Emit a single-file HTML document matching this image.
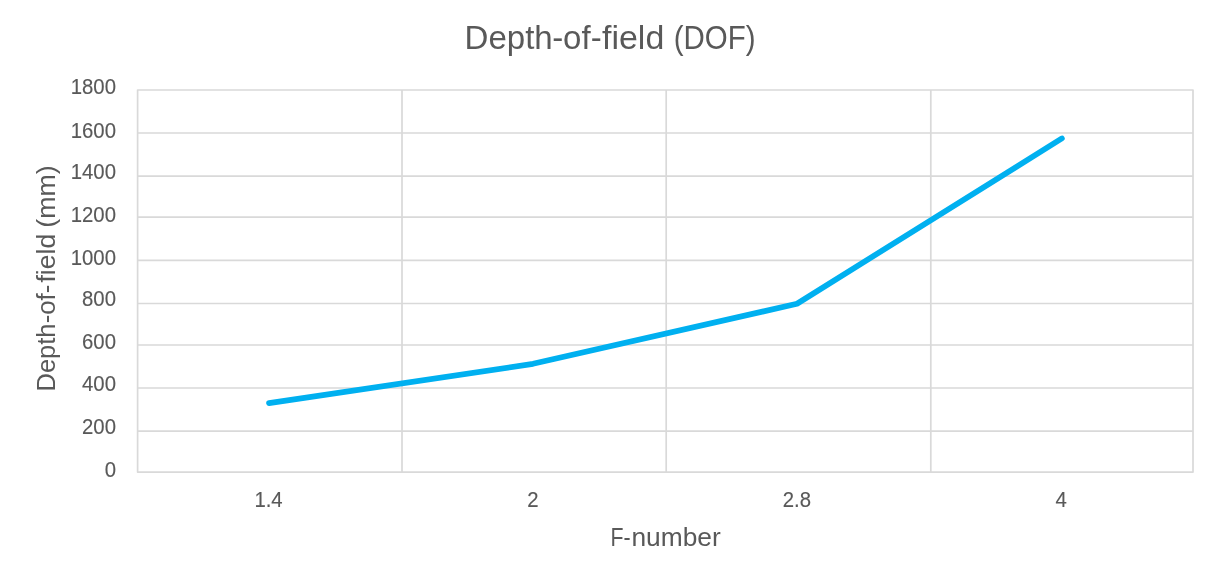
<!DOCTYPE html>
<html lang="en"><head><meta charset="utf-8"><title>Depth-of-field (DOF)</title>
<style>
html,body{margin:0;padding:0;background:#fff;}
body{width:1217px;height:585px;overflow:hidden;}
svg{display:block;font-family:"Liberation Sans",sans-serif;fill:#595959;}
.grid line,.grid rect{stroke:#d9d9d9;stroke-width:1.7;}
.tick{font-size:21.7px;stroke:#595959;stroke-width:0.15px;}
.title{font-size:34.1px;}
.axt{font-size:26.6px;}
</style></head><body>
<svg width="1217" height="585" viewBox="0 0 1217 585">
<rect width="1217" height="585" fill="#fff"/>
<g class="grid">
<line x1="137.6" y1="133.00" x2="1193.0" y2="133.00"/>
<line x1="137.6" y1="176.10" x2="1193.0" y2="176.10"/>
<line x1="137.6" y1="217.20" x2="1193.0" y2="217.20"/>
<line x1="137.6" y1="260.35" x2="1193.0" y2="260.35"/>
<line x1="137.6" y1="303.50" x2="1193.0" y2="303.50"/>
<line x1="137.6" y1="345.00" x2="1193.0" y2="345.00"/>
<line x1="137.6" y1="388.00" x2="1193.0" y2="388.00"/>
<line x1="137.6" y1="431.10" x2="1193.0" y2="431.10"/>
<line x1="402.00" y1="90.0" x2="402.00" y2="472.1"/>
<line x1="666.20" y1="90.0" x2="666.20" y2="472.1"/>
<line x1="930.80" y1="90.0" x2="930.80" y2="472.1"/>
<rect x="137.6" y="90.0" width="1055.40" height="382.10" fill="none" stroke-linejoin="round"/>
</g>
<polyline points="269.00,403.11 533.00,363.84 797.00,303.76 1061.90,138.40" fill="none" stroke="#00b0f0" stroke-width="5.7" stroke-linecap="round" stroke-linejoin="round"/>
<text class="tick" y="94.10"><tspan x="70.76" textLength="45.23" lengthAdjust="spacingAndGlyphs">1800</tspan></text>
<text class="tick" y="137.70"><tspan x="70.76" textLength="45.23" lengthAdjust="spacingAndGlyphs">1600</tspan></text>
<text class="tick" y="179.10"><tspan x="70.76" textLength="45.23" lengthAdjust="spacingAndGlyphs">1400</tspan></text>
<text class="tick" y="221.60"><tspan x="70.76" textLength="45.23" lengthAdjust="spacingAndGlyphs">1200</tspan></text>
<text class="tick" y="265.10"><tspan x="70.76" textLength="45.23" lengthAdjust="spacingAndGlyphs">1000</tspan></text>
<text class="tick" y="305.90"><tspan x="82.07" textLength="33.92" lengthAdjust="spacingAndGlyphs">800</tspan></text>
<text class="tick" y="349.00"><tspan x="82.07" textLength="33.92" lengthAdjust="spacingAndGlyphs">600</tspan></text>
<text class="tick" y="390.60"><tspan x="82.07" textLength="33.92" lengthAdjust="spacingAndGlyphs">400</tspan></text>
<text class="tick" y="434.00"><tspan x="82.07" textLength="33.92" lengthAdjust="spacingAndGlyphs">200</tspan></text>
<text class="tick" y="476.50"><tspan x="104.69" textLength="11.31" lengthAdjust="spacingAndGlyphs">0</tspan></text>
<text class="tick" y="507.00"><tspan x="254.39" textLength="28.27" lengthAdjust="spacingAndGlyphs">1.4</tspan></text>
<text class="tick" y="507.00"><tspan x="527.35" textLength="11.31" lengthAdjust="spacingAndGlyphs">2</tspan></text>
<text class="tick" y="507.00"><tspan x="782.80" textLength="28.27" lengthAdjust="spacingAndGlyphs">2.8</tspan></text>
<text class="tick" y="507.00"><tspan x="1055.41" textLength="11.31" lengthAdjust="spacingAndGlyphs">4</tspan></text>
<text class="title" y="49.20"><tspan x="464.59" textLength="88.16" lengthAdjust="spacingAndGlyphs">Depth</tspan><tspan x="552.13" textLength="49.53" lengthAdjust="spacingAndGlyphs">-of-</tspan><tspan x="602.02" textLength="62.27" lengthAdjust="spacingAndGlyphs">field</tspan> <tspan x="673.77" textLength="81.75" lengthAdjust="spacingAndGlyphs">(DOF)</tspan></text>
<text class="axt" y="546.00"><tspan x="610.45" textLength="20.09" lengthAdjust="spacingAndGlyphs">F-</tspan><tspan x="631.45" textLength="89.29" lengthAdjust="spacingAndGlyphs">number</tspan></text>
<text class="axt" y="0.00" transform="translate(55.3,0) rotate(-90)"><tspan x="-391.49" textLength="67.94" lengthAdjust="spacingAndGlyphs">Depth</tspan><tspan x="-323.35" textLength="38.69" lengthAdjust="spacingAndGlyphs">-of-</tspan><tspan x="-282.58" textLength="48.79" lengthAdjust="spacingAndGlyphs">field</tspan> <tspan x="-227.66" textLength="62.31" lengthAdjust="spacingAndGlyphs">(mm)</tspan></text>
</svg>
</body></html>
